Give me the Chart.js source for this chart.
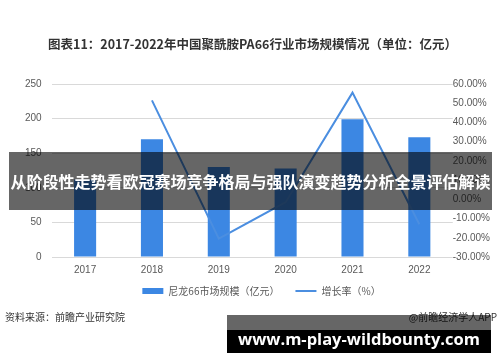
<!DOCTYPE html>
<html>
<head>
<meta charset="utf-8">
<script src="https://cdn.jsdelivr.net/npm/chart.js@4.4.0/dist/chart.umd.min.js"></script>
<style>
    body { margin: 0; background: #fff; font-family: "Noto Sans CJK SC", sans-serif; }
    #wrap { position: relative; width: 500px; height: 362px; overflow: hidden; }
    #chart { position: absolute; left: 0; top: 0; }
    .src { position: absolute; top: 309px; font-size: 10px; color: #333; }
    .banner { position: absolute; left: 9px; top: 152px; width: 483px; height: 58px;
        background: rgba(0, 0, 0, 0.6); color: #fff; font-weight: bold; font-size: 16px;
        line-height: 58px; text-align: center; white-space: nowrap; }
    .site-gray { position: absolute; left: 227px; top: 315px; width: 264px; height: 38px; background: rgba(0, 0, 0, 0.6); }
    .site { position: absolute; left: 227px; top: 330px; width: 264px; height: 23px; background: #000; }
    .site-text { position: absolute; left: 227px; top: 327px; width: 264px; text-align: center;
        color: #fff; font-weight: bold; font-size: 16.5px; font-family: "Open Sans", sans-serif; white-space: nowrap; }
</style>
</head>
<body>
<div id="wrap">
    <canvas id="chart" width="500" height="362"></canvas>
    <div class="src" style="left:5px;">资料来源：前瞻产业研究院</div>
    <div class="src" style="right:3px;">@前瞻经济学人APP</div>
    <div class="banner">从阶段性走势看欧冠赛场竞争格局与强队演变趋势分析全景评估解读</div>
    <div class="site-gray"></div>
    <div class="site"></div>
    <div class="site-text">www.m-play-wildbounty.com</div>
</div>
<script>
    var years = ['2017', '2018', '2019', '2020', '2021', '2022'];
    var marketSize = [112, 170, 130, 128, 199, 173];
    var growthRate = [null, 51.5, -20.5, -1.5, 55.5, -13];

    var barColor = '#3c87e3';
    var lineColor = '#4b8ee0';
    var tickColor = '#595959';
    var font = '"Noto Sans CJK SC", sans-serif';
    var numFont = '"Liberation Sans", sans-serif';

    // legend keeps its wide item spacing but sits closer to the axis labels
    var liftLegend = {
        id: 'liftLegend',
        afterLayout: function (chart) {
            chart.legend.top -= 13;
            chart.legend.bottom -= 13;
            chart.legend.left += 9;
            chart.legend.right += 9;
        }
    };

    var ctx = document.getElementById('chart').getContext('2d');
    new Chart(ctx, {
        data: {
            labels: years,
            datasets: [{
                type: 'bar',
                label: '尼龙66市场规模（亿元）',
                data: marketSize,
                backgroundColor: barColor,
                borderWidth: 0,
                categoryPercentage: 1,
                barPercentage: 0.33,
                pointStyle: 'rect',
                yAxisID: 'y',
                order: 2
            }, {
                type: 'line',
                label: '增长率（%）',
                data: growthRate,
                borderColor: lineColor,
                backgroundColor: lineColor,
                borderWidth: 2,
                pointRadius: 0,
                pointStyle: 'line',
                tension: 0,
                yAxisID: 'y1',
                order: 1
            }]
        },
        options: {
            responsive: false,
            animation: false,
            layout: { padding: { left: 15, right: 10, bottom: 43 } },
            plugins: {
                title: {
                    display: true,
                    text: '图表11：2017-2022年中国聚酰胺PA66行业市场规模情况（单位：亿元）',
                    color: '#333',
                    font: { family: font, size: 12.5, weight: 'bold' },
                    padding: { top: 37, bottom: 32 }
                },
                legend: {
                    position: 'bottom',
                    labels: {
                        usePointStyle: true,
                        pointStyleWidth: 21,
                        boxHeight: 6,
                        color: tickColor,
                        font: { family: font, size: 10 },
                        padding: 16,
                        sort: function (a, b) { return a.datasetIndex - b.datasetIndex; }
                    }
                },
                tooltip: { enabled: false }
            },
            scales: {
                x: {
                    grid: { display: false, drawTicks: false },
                    border: { display: false },
                    ticks: { color: tickColor, font: { family: numFont, size: 10 }, padding: 7 }
                },
                y: {
                    position: 'left',
                    min: 0, max: 250,
                    ticks: { stepSize: 50, color: tickColor, font: { family: numFont, size: 10 }, padding: 10 },
                    grid: { color: '#d9d9d9', drawTicks: false },
                    border: { display: false }
                },
                y1: {
                    position: 'right',
                    min: -30, max: 60,
                    ticks: {
                        stepSize: 10, color: tickColor, font: { family: numFont, size: 10 }, padding: 0,
                        callback: function (v) { return v.toFixed(2) + '%'; }
                    },
                    grid: { display: false, drawTicks: false },
                    border: { display: false }
                }
            }
        },
        plugins: [liftLegend]
    });
</script>
</body>
</html>
